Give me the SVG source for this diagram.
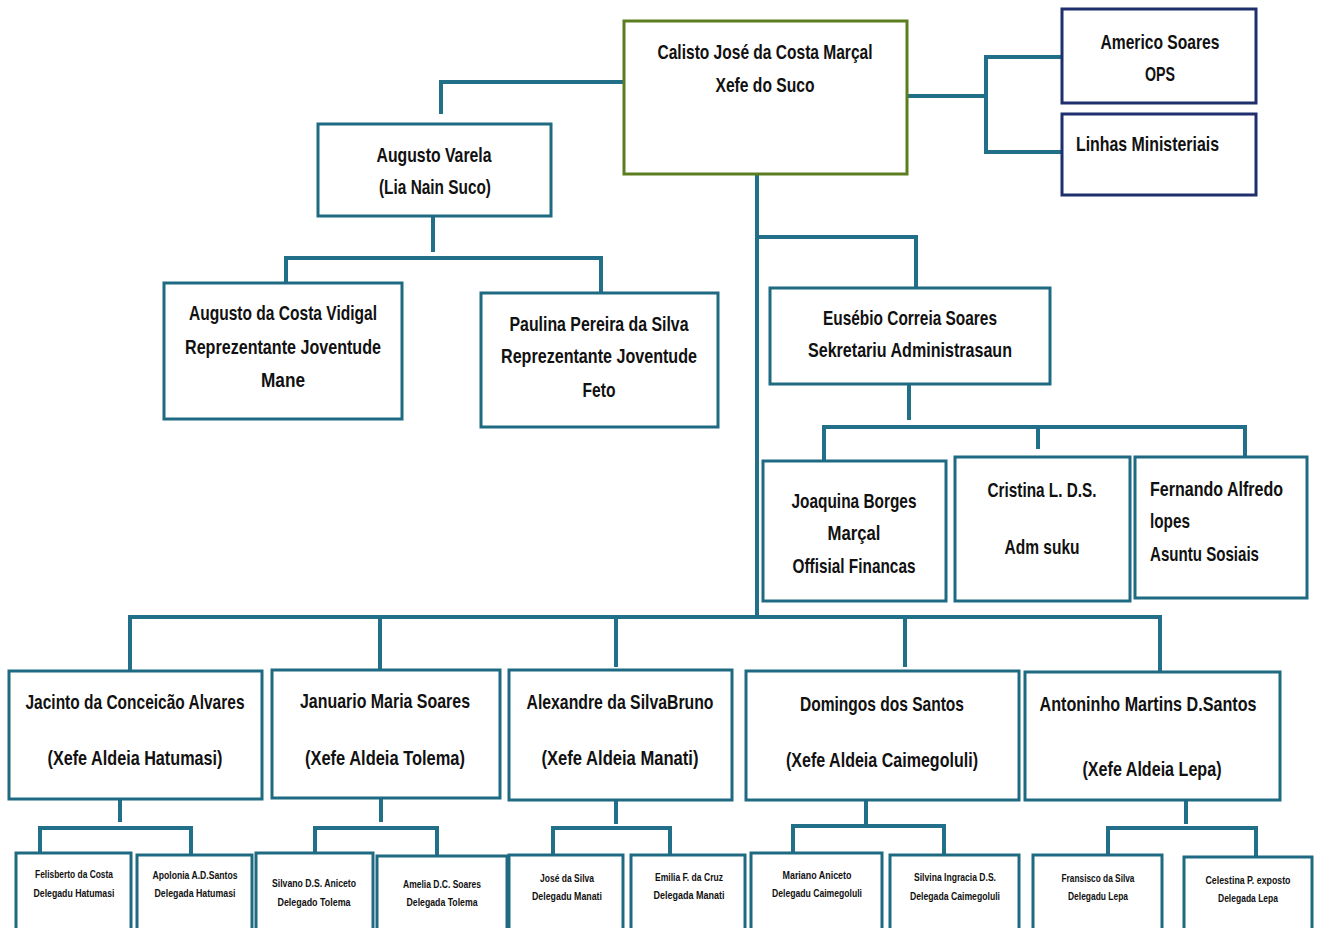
<svg xmlns="http://www.w3.org/2000/svg" width="1317" height="928" viewBox="0 0 1317 928">
<style>
.bg{fill:#ffffff}
.box{fill:#ffffff;stroke:#1e6a82;stroke-width:3}
.top{fill:#ffffff;stroke:#5b7c1f;stroke-width:3}
.navy{fill:#ffffff;stroke:#1f2f6e;stroke-width:3}
.c{fill:none;stroke:#216f88;stroke-width:4;stroke-linecap:square}
text{font-family:"Liberation Sans",Arial,sans-serif;fill:#111111;font-weight:bold}
.t{font-size:21px;text-anchor:middle}
.l{font-size:21px;text-anchor:start}
.s{font-size:11px;text-anchor:middle}
</style>
<rect class="bg" x="0" y="0" width="1317" height="928"/>
<g id="connectors">
<path class="c" d="M907,96 H986 M986,57 V152 M986,57 H1062 M986,152 H1062"/>
<path class="c" d="M624,82 H441 V112"/>
<path class="c" d="M433,216 V250 M286,258 H601 M286,258 V283 M601,258 V292"/>
<path class="c" d="M757,174 V617"/>
<path class="c" d="M757,237 H916 V287"/>
<path class="c" d="M909,384 V418 M824,427 H1245 M824,427 V460 M1038,427 V447 M1245,427 V457"/>
<path class="c" d="M130,617 H1160 M130,617 V670 M380,617 V670 M616,621 V665 M905,617 V665 M1160,617 V672"/>
<path class="c" d="M120,800 V820 M40,828 H191 M40,828 V853 M191,828 V853"/>
<path class="c" d="M381,799 V820 M315,828 H437 M315,828 V853 M437,828 V856"/>
<path class="c" d="M616,800 V822 M553,828 H670 M553,828 V855 M670,828 V855"/>
<path class="c" d="M866,800 V822 M793,826 H944 M793,826 V853 M944,826 V855"/>
<path class="c" d="M1186,800 V822 M1108,828 H1256 M1108,828 V855 M1256,828 V857"/>
</g>
<g id="n-calisto">
<rect class="top" x="624" y="21" width="283" height="153"/>
<text class="t" x="765" y="59" textLength="215" lengthAdjust="spacingAndGlyphs">Calisto José da Costa Marçal</text>
<text class="t" x="765" y="92" textLength="99" lengthAdjust="spacingAndGlyphs">Xefe do Suco</text>
</g>
<g id="n-americo">
<rect class="navy" x="1062" y="9" width="194" height="94"/>
<text class="t" x="1160" y="49" textLength="119" lengthAdjust="spacingAndGlyphs">Americo Soares</text>
<text class="t" x="1160" y="81" textLength="30" lengthAdjust="spacingAndGlyphs">OPS</text>
</g>
<g id="n-linhas">
<rect class="navy" x="1062" y="114" width="194" height="81"/>
<text class="l" x="1076" y="151" textLength="143" lengthAdjust="spacingAndGlyphs">Linhas Ministeriais</text>
</g>
<g id="n-augusto-varela">
<rect class="box" x="318" y="124" width="233" height="92"/>
<text class="t" x="434" y="162" textLength="115" lengthAdjust="spacingAndGlyphs">Augusto Varela</text>
<text class="t" x="435" y="194" textLength="112" lengthAdjust="spacingAndGlyphs">(Lia Nain Suco)</text>
</g>
<g id="n-vidigal">
<rect class="box" x="164" y="283" width="238" height="136"/>
<text class="t" x="283" y="320" textLength="188" lengthAdjust="spacingAndGlyphs">Augusto da Costa Vidigal</text>
<text class="t" x="283" y="354" textLength="196" lengthAdjust="spacingAndGlyphs">Reprezentante Joventude</text>
<text class="t" x="283" y="387" textLength="44" lengthAdjust="spacingAndGlyphs">Mane</text>
</g>
<g id="n-paulina">
<rect class="box" x="481" y="293" width="237" height="134"/>
<text class="t" x="599" y="331" textLength="179" lengthAdjust="spacingAndGlyphs">Paulina Pereira da Silva</text>
<text class="t" x="599" y="363" textLength="196" lengthAdjust="spacingAndGlyphs">Reprezentante Joventude</text>
<text class="t" x="599" y="397" textLength="33" lengthAdjust="spacingAndGlyphs">Feto</text>
</g>
<g id="n-eusebio">
<rect class="box" x="770" y="288" width="280" height="96"/>
<text class="t" x="910" y="325" textLength="174" lengthAdjust="spacingAndGlyphs">Eusébio Correia Soares</text>
<text class="t" x="910" y="357" textLength="204" lengthAdjust="spacingAndGlyphs">Sekretariu Administrasaun</text>
</g>
<g id="n-joaquina">
<rect class="box" x="763" y="461" width="183" height="140"/>
<text class="t" x="854" y="508" textLength="125" lengthAdjust="spacingAndGlyphs">Joaquina Borges</text>
<text class="t" x="854" y="540" textLength="53" lengthAdjust="spacingAndGlyphs">Marçal</text>
<text class="t" x="854" y="573" textLength="123" lengthAdjust="spacingAndGlyphs">Offisial Financas</text>
</g>
<g id="n-cristina">
<rect class="box" x="955" y="457" width="175" height="144"/>
<text class="t" x="1042" y="497" textLength="109" lengthAdjust="spacingAndGlyphs">Cristina L. D.S.</text>
<text class="t" x="1042" y="554" textLength="75" lengthAdjust="spacingAndGlyphs">Adm suku</text>
</g>
<g id="n-fernando">
<rect class="box" x="1135" y="457" width="172" height="141"/>
<text class="l" x="1150" y="496" textLength="133" lengthAdjust="spacingAndGlyphs">Fernando Alfredo</text>
<text class="l" x="1150" y="528" textLength="40" lengthAdjust="spacingAndGlyphs">lopes</text>
<text class="l" x="1150" y="561" textLength="109" lengthAdjust="spacingAndGlyphs">Asuntu Sosiais</text>
</g>
<g id="n-jacinto">
<rect class="box" x="9" y="671" width="253" height="128"/>
<text class="t" x="135" y="709" textLength="219" lengthAdjust="spacingAndGlyphs">Jacinto da Conceicão Alvares</text>
<text class="t" x="135" y="765" textLength="175" lengthAdjust="spacingAndGlyphs">(Xefe Aldeia Hatumasi)</text>
</g>
<g id="n-januario">
<rect class="box" x="272" y="670" width="228" height="128"/>
<text class="t" x="385" y="708" textLength="170" lengthAdjust="spacingAndGlyphs">Januario Maria Soares</text>
<text class="t" x="385" y="765" textLength="160" lengthAdjust="spacingAndGlyphs">(Xefe Aldeia Tolema)</text>
</g>
<g id="n-alexandre">
<rect class="box" x="509" y="670" width="223" height="130"/>
<text class="t" x="620" y="709" textLength="187" lengthAdjust="spacingAndGlyphs">Alexandre da SilvaBruno</text>
<text class="t" x="620" y="765" textLength="157" lengthAdjust="spacingAndGlyphs">(Xefe Aldeia Manati)</text>
</g>
<g id="n-domingos">
<rect class="box" x="746" y="671" width="273" height="129"/>
<text class="t" x="882" y="711" textLength="164" lengthAdjust="spacingAndGlyphs">Domingos dos Santos</text>
<text class="t" x="882" y="767" textLength="192" lengthAdjust="spacingAndGlyphs">(Xefe Aldeia Caimegoluli)</text>
</g>
<g id="n-antoninho">
<rect class="box" x="1025" y="672" width="255" height="128"/>
<text class="t" x="1148" y="711" textLength="217" lengthAdjust="spacingAndGlyphs">Antoninho Martins D.Santos</text>
<text class="t" x="1152" y="776" textLength="139" lengthAdjust="spacingAndGlyphs">(Xefe Aldeia Lepa)</text>
</g>
<g id="n-felisberto">
<rect class="box" x="16" y="853" width="115" height="85"/>
<text class="s" x="74" y="878" textLength="78" lengthAdjust="spacingAndGlyphs">Felisberto da Costa</text>
<text class="s" x="74" y="897" textLength="81" lengthAdjust="spacingAndGlyphs">Delegadu Hatumasi</text>
</g>
<g id="n-apolonia">
<rect class="box" x="137" y="855" width="115" height="85"/>
<text class="s" x="195" y="879" textLength="85" lengthAdjust="spacingAndGlyphs">Apolonia A.D.Santos</text>
<text class="s" x="195" y="897" textLength="81" lengthAdjust="spacingAndGlyphs">Delegada Hatumasi</text>
</g>
<g id="n-silvano">
<rect class="box" x="256" y="853" width="117" height="85"/>
<text class="s" x="314" y="887" textLength="84" lengthAdjust="spacingAndGlyphs">Silvano D.S.  Aniceto</text>
<text class="s" x="314" y="906" textLength="73" lengthAdjust="spacingAndGlyphs">Delegado Tolema</text>
</g>
<g id="n-amelia">
<rect class="box" x="377" y="856" width="130" height="85"/>
<text class="s" x="442" y="888" textLength="78" lengthAdjust="spacingAndGlyphs">Amelia D.C. Soares</text>
<text class="s" x="442" y="906" textLength="71" lengthAdjust="spacingAndGlyphs">Delegada Tolema</text>
</g>
<g id="n-jose">
<rect class="box" x="509" y="855" width="114" height="85"/>
<text class="s" x="567" y="882" textLength="54" lengthAdjust="spacingAndGlyphs">José da Silva</text>
<text class="s" x="567" y="900" textLength="70" lengthAdjust="spacingAndGlyphs">Delegadu Manati</text>
</g>
<g id="n-emilia">
<rect class="box" x="631" y="855" width="114" height="85"/>
<text class="s" x="689" y="881" textLength="68" lengthAdjust="spacingAndGlyphs">Emilia F. da Cruz</text>
<text class="s" x="689" y="899" textLength="71" lengthAdjust="spacingAndGlyphs">Delegada Manati</text>
</g>
<g id="n-mariano">
<rect class="box" x="751" y="853" width="131" height="85"/>
<text class="s" x="817" y="879" textLength="69" lengthAdjust="spacingAndGlyphs">Mariano Aniceto</text>
<text class="s" x="817" y="897" textLength="90" lengthAdjust="spacingAndGlyphs">Delegadu Caimegoluli</text>
</g>
<g id="n-silvina">
<rect class="box" x="890" y="855" width="129" height="85"/>
<text class="s" x="955" y="881" textLength="82" lengthAdjust="spacingAndGlyphs">Silvina Ingracia D.S.</text>
<text class="s" x="955" y="900" textLength="90" lengthAdjust="spacingAndGlyphs">Delegada Caimegoluli</text>
</g>
<g id="n-fransisco">
<rect class="box" x="1033" y="855" width="129" height="85"/>
<text class="s" x="1098" y="882" textLength="73" lengthAdjust="spacingAndGlyphs">Fransisco da Silva</text>
<text class="s" x="1098" y="900" textLength="60" lengthAdjust="spacingAndGlyphs">Delegadu Lepa</text>
</g>
<g id="n-celestina">
<rect class="box" x="1184" y="857" width="128" height="85"/>
<text class="s" x="1248" y="884" textLength="85" lengthAdjust="spacingAndGlyphs">Celestina P. exposto</text>
<text class="s" x="1248" y="902" textLength="60" lengthAdjust="spacingAndGlyphs">Delegada Lepa</text>
</g>
</svg>
